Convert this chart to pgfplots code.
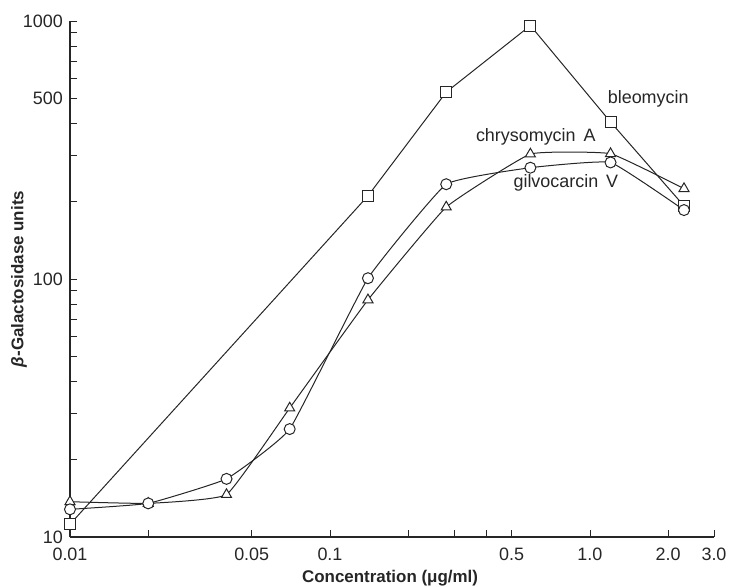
\documentclass[border=0pt]{standalone}
\usepackage{pgfplots}
\pgfplotsset{compat=1.18}
\usepackage{fontspec}
\setmainfont{Liberation Sans}

\begin{document}
\begin{tikzpicture}
\useasboundingbox (-70bp,-50bp) rectangle (660bp,537bp);
\begin{axis}[
  at={(0,0)}, anchor=south west,
  scale only axis, width=644bp, height=516bp,
  xmode=log, ymode=log,
  xmin=0.01, xmax=3, ymin=10, ymax=1000,
  axis lines=left,
  axis line style={-, line width=1.1bp, black!85},
  xtick={0.01,0.05,0.1,0.5,1,2,3},
  xticklabels={0.01,0.05,0.1,0.5,1.0,2.0,3.0},
  minor xtick={0.02,0.2,0.3,0.4},
  ytick={10,100,500,1000},
  yticklabels={10,100,500,1000},
  minor ytick={20,30,40,50,60,70,80,90,200,300,400,600,700,800,900},
  tick align=inside,
  major tick length=7bp, minor tick length=7bp,
  tick style={line width=0.9bp, black!85},
  tick label style={font=\fontsize{18}{21}\selectfont, text=black!85, inner sep=1bp},
  xticklabel style={yshift=-10bp},
  yticklabel style={xshift=-6bp},
  /pgf/number format/assume math mode=true,
  clip=false,
  xlabel={\bfseries Concentration (μg/ml)},
  ylabel={\bfseries \textit{β}-Galactosidase units},
  label style={font=\fontsize{17}{20}\selectfont, text=black!85},
  xlabel style={at={(axis description cs:0.497,-0.08)}, anchor=center},
  ylabel style={at={(axis description cs:-0.079,0.5)}, anchor=center},
  every axis plot/.append style={line width=1bp, black!85},
]
% bleomycin
\addplot[sharp plot, mark=square*, mark size=5.5bp, mark options={fill=white}]
  coordinates {(0.01,11.2) (0.14,210) (0.28,530) (0.59,960) (1.2,406) (2.3,192)};
% chrysomycin A
\addplot[smooth, tension=0.2, mark=triangle*, mark size=5.8bp, mark options={fill=white}]
  coordinates {(0.01,13.7) (0.02,13.5) (0.04,14.6) (0.07,31.6) (0.14,83)
               (0.28,190) (0.59,305) (1.2,306) (2.3,224)};
% gilvocarcin V
\addplot[smooth, tension=0.2, mark=*, mark size=5.5bp, mark options={fill=white}]
  coordinates {(0.01,12.8) (0.02,13.5) (0.04,16.8) (0.07,26.2) (0.14,100.7)
               (0.28,233) (0.59,270) (1.2,283) (2.3,185)};

\node[font=\fontsize{18}{21}\selectfont, text=black!85] at (axis cs:1.675,499) {bleomycin};
\node[font=\fontsize{18}{21}\selectfont, text=black!85] at (axis cs:0.619,355) {chrysomycin\, A};
\node[font=\fontsize{18}{21}\selectfont, text=black!85] at (axis cs:0.808,236) {gilvocarcin\, V};
\end{axis}
\end{tikzpicture}
\end{document}
